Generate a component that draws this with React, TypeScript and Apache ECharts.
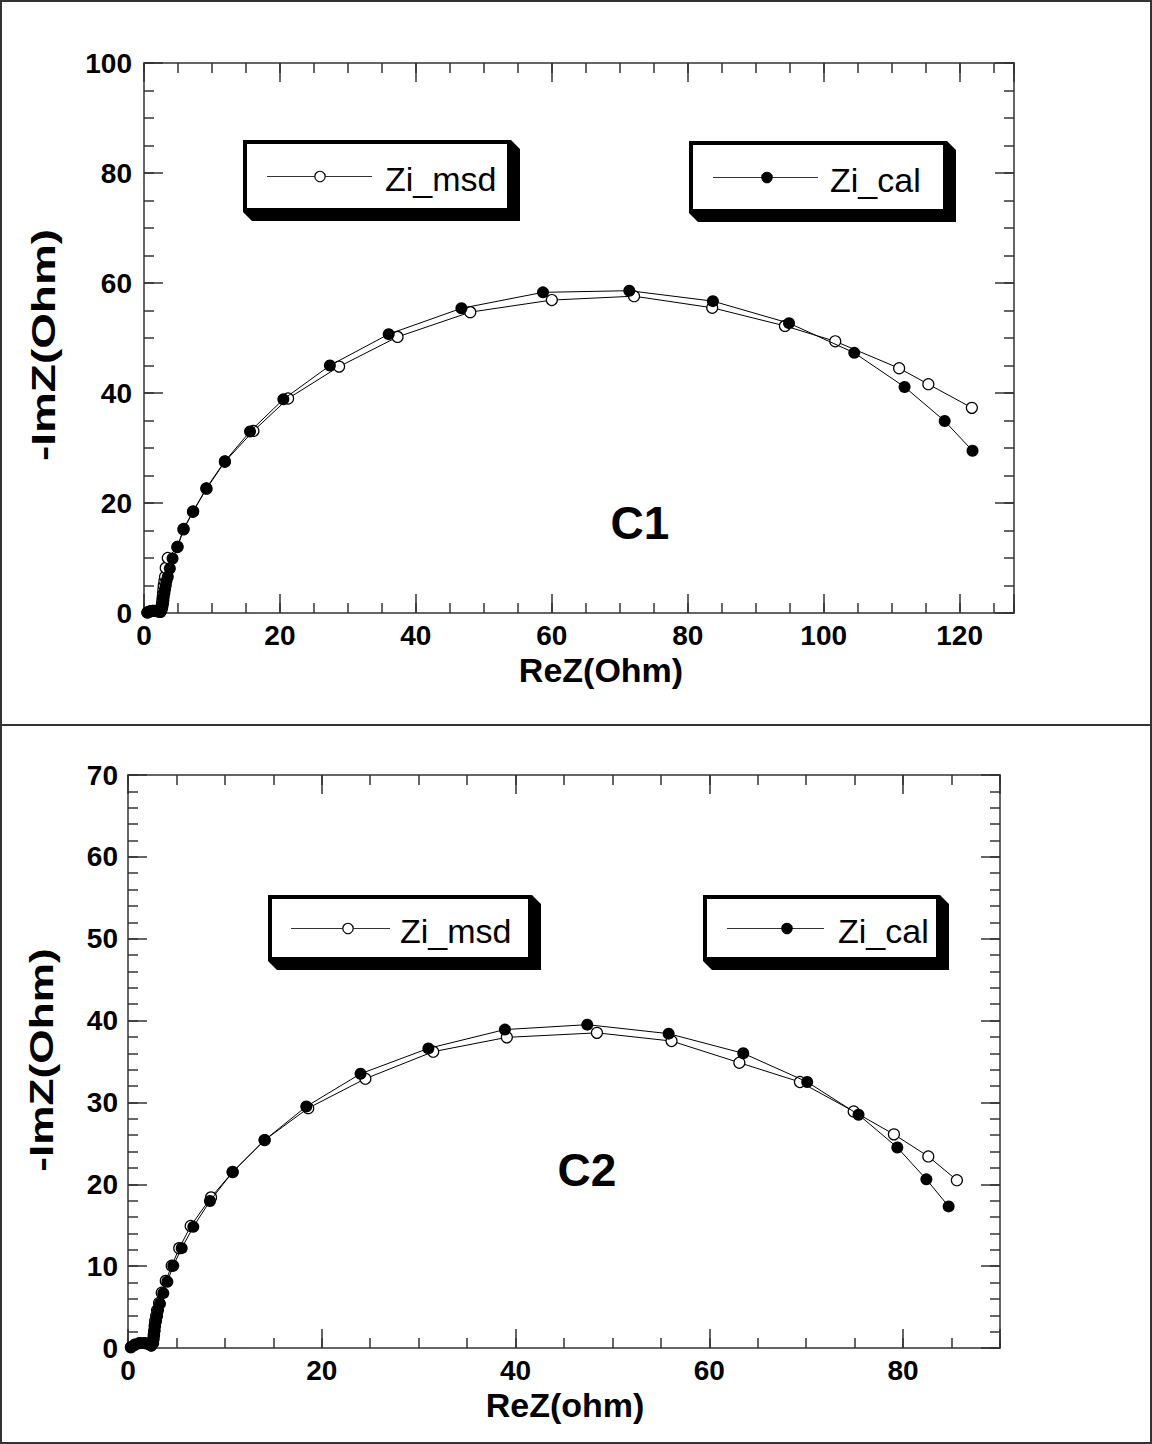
import React, { useEffect, useRef } from "react";
import * as echarts from "echarts";

// ---------- Data (C1, top panel) ----------
const c1MsdX = [0.5, 0.9, 1.3, 1.7, 2.1, 2.4, 2.5, 2.6, 2.65, 2.7, 2.75, 2.8, 2.85, 2.9, 3.0, 3.1, 3.2, 3.5, 4.9, 5.8, 7.2, 9.2, 11.9, 16.1, 21.2, 28.7, 37.3, 48.0, 60.0, 72.1, 83.6, 94.3, 101.7, 111.1, 115.4, 121.8];
const c1MsdY = [0.1, 0.3, 0.4, 0.4, 0.3, 0.2, 0.6, 1.1, 1.7, 2.3, 2.9, 3.6, 4.3, 5.0, 5.8, 6.6, 8.2, 10.0, 12.0, 15.2, 18.4, 22.6, 27.5, 33.1, 39.0, 44.8, 50.2, 54.7, 56.9, 57.6, 55.5, 52.2, 49.4, 44.5, 41.6, 37.3];
const c1CalX = [0.5, 0.9, 1.3, 1.7, 2.1, 2.4, 2.6, 2.7, 2.8, 2.85, 2.9, 3.0, 3.1, 3.2, 3.3, 3.5, 3.8, 4.2, 4.96, 5.84, 7.25, 9.16, 11.9, 15.6, 20.5, 27.35, 36.0, 46.7, 58.7, 71.4, 83.7, 94.9, 104.5, 111.9, 117.8, 121.9];
const c1CalY = [0.1, 0.3, 0.4, 0.4, 0.3, 0.2, 0.6, 1.1, 1.7, 2.3, 2.9, 3.6, 4.3, 5.0, 5.8, 6.6, 8.1, 9.9, 12.05, 15.3, 18.5, 22.7, 27.6, 33.0, 38.85, 45.0, 50.7, 55.4, 58.3, 58.6, 56.7, 52.7, 47.3, 41.1, 34.9, 29.5];

// ---------- Data (C2, bottom panel) ----------
const c2MsdX = [0.3, 0.7, 1.2, 1.7, 2.1, 2.4, 2.55, 2.6, 2.65, 2.7, 2.75, 2.8, 2.9, 3.0, 3.2, 3.48, 3.9, 4.51, 5.29, 6.47, 8.57, 10.8, 14.1, 18.6, 24.5, 31.5, 39.1, 48.4, 56.1, 63.1, 69.35, 74.9, 79.05, 82.6, 85.55];
const c2MsdY = [0.1, 0.4, 0.6, 0.6, 0.5, 0.3, 0.6, 1.1, 1.6, 2.1, 2.7, 3.3, 3.9, 4.6, 5.5, 6.75, 8.2, 10.05, 12.2, 14.9, 18.4, 21.5, 25.4, 29.3, 32.9, 36.2, 37.95, 38.5, 37.5, 34.85, 32.5, 28.9, 26.1, 23.4, 20.5];
const c2CalX = [0.3, 0.7, 1.2, 1.7, 2.1, 2.4, 2.6, 2.65, 2.7, 2.75, 2.8, 2.9, 3.0, 3.1, 3.3, 3.64, 4.06, 4.67, 5.54, 6.74, 8.46, 10.8, 14.1, 18.4, 24.0, 31.0, 38.9, 47.4, 55.8, 63.5, 70.1, 75.4, 79.4, 82.4, 84.7];
const c2CalY = [0.1, 0.4, 0.6, 0.6, 0.5, 0.3, 0.6, 1.1, 1.6, 2.1, 2.7, 3.3, 3.9, 4.6, 5.4, 6.7, 8.1, 10.05, 12.2, 14.8, 17.96, 21.5, 25.4, 29.5, 33.5, 36.6, 38.9, 39.5, 38.4, 36.0, 32.5, 28.5, 24.5, 20.6, 17.3];

// ---------- Axis settings ----------
const c1XRange = [0, 128];
const c1YRange = [0, 100];
const c1XTicks = { minor: 5, major: 20 };
const c1YTicks = { minor: 5, major: 20 };
const c2XRange = [0, 90];
const c2YRange = [0, 70];
const c2XTicks = { minor: 5, major: 20 };
const c2YTicks = { minor: 2, major: 10 };

const seriesNames = ["Zi_msd", "Zi_cal"];
const panelLabels = ["C1", "C2"];
const xTitles = ["ReZ(Ohm)", "ReZ(ohm)"];
const yTitle = "-ImZ(Ohm)";

const FONT = "'Liberation Sans', Arial, Helvetica, sans-serif";
const AXIS_COLOR = "#333";

function zip(xs: number[], ys: number[]) {
  return xs.map((x, i) => [x, ys[i]]);
}

function makeAxes(
  dim: "x" | "y",
  gridIndex: number,
  range: number[],
  ticks: { minor: number; major: number },
  labelMargin: number
) {
  const positions = dim === "x" ? ["bottom", "top"] : ["left", "right"];
  const axes: any[] = [];
  positions.forEach((pos, pi) => {
    [ticks.minor, ticks.major].forEach((interval, ki) => {
      const isMajor = ki === 1;
      const showLabel = pi === 0 && isMajor;
      axes.push({
        type: "value",
        gridIndex,
        position: pos,
        min: range[0],
        max: range[1],
        interval,
        axisLine: {
          show: !isMajor,
          onZero: false,
          lineStyle: { color: AXIS_COLOR, width: 1.5 },
        },
        axisTick: {
          show: true,
          inside: true,
          length: isMajor ? 19 : 10,
          lineStyle: { color: AXIS_COLOR, width: 1.5 },
        },
        axisLabel: {
          show: showLabel,
          margin: labelMargin,
          fontSize: 28,
          fontWeight: "bold",
          fontFamily: FONT,
          color: "#000",
          formatter: (v: number) => (v % ticks.major === 0 ? String(v) : ""),
        },
        splitLine: { show: false },
        minorTick: { show: false },
      });
    });
  });
  return axes;
}

function legendBox(L: number, T: number, R: number, B: number, lx1: number, lx2: number, mx: number, tx: number, filled: boolean, label: string) {
  const cy = (T + B) / 2 + 0.5;
  const s = 9;
  return [
    {
      type: "polygon",
      z: 20,
      shape: { points: [[L, B], [R, B], [R, T], [R + s, T + s], [R + s, B + s], [L + s, B + s]] },
      style: { fill: "#000" },
    },
    {
      type: "rect",
      z: 21,
      shape: { x: L + 2, y: T + 2, width: R - L - 4, height: B - T - 4 },
      style: { fill: "#fff", stroke: "#000", lineWidth: 4 },
    },
    {
      type: "line",
      z: 22,
      shape: { x1: lx1, y1: cy, x2: lx2, y2: cy },
      style: { stroke: "#333", lineWidth: 1 },
    },
    {
      type: "circle",
      z: 23,
      shape: { cx: mx, cy, r: 5.2 },
      style: { fill: filled ? "#000" : "#fff", stroke: "#000", lineWidth: 1.2 },
    },
    {
      type: "text",
      z: 23,
      x: tx,
      y: cy + 2,
      style: { text: label, fontSize: 34, fontFamily: FONT, fill: "#000", align: "left", verticalAlign: "middle" },
    },
  ];
}

function boldText(text: string, x: number, y: number, size: number, rotate = 0, stretch = 1) {
  return {
    type: "text",
    z: 25,
    x,
    y,
    rotation: rotate,
    scaleX: stretch,
    style: { text, fontSize: size, fontWeight: "bold", fontFamily: FONT, fill: "#000", align: "center", verticalAlign: "middle" },
  };
}

export default function App() {
  const ref = useRef<HTMLDivElement>(null);

  useEffect(() => {
    document.body.style.margin = "0";
    if (!ref.current) return;
    const chart = echarts.init(ref.current, undefined, { renderer: "svg" });

    const xAxes = [
      ...makeAxes("x", 0, c1XRange, c1XTicks, 8),
      ...makeAxes("x", 1, c2XRange, c2XTicks, 8),
    ];
    const yAxes = [
      ...makeAxes("y", 0, c1YRange, c1YTicks, 12),
      ...makeAxes("y", 1, c2YRange, c2YTicks, 10),
    ];

    const openStyle = {
      type: "line",
      symbol: "circle",
      symbolSize: 11,
      showSymbol: true,
      lineStyle: { color: "#000", width: 1 },
      itemStyle: { color: "#fff", borderColor: "#000", borderWidth: 1.2 },
      z: 2,
    };
    const filledStyle = {
      type: "line",
      symbol: "circle",
      symbolSize: 12,
      showSymbol: true,
      lineStyle: { color: "#000", width: 1 },
      itemStyle: { color: "#000", borderColor: "#000", borderWidth: 0 },
      z: 3,
    };

    const option: any = {
      animation: false,
      backgroundColor: "#fff",
      grid: [
        { left: 144, top: 63, width: 870, height: 550 },
        { left: 128, top: 775, width: 872, height: 573 },
      ],
      xAxis: xAxes,
      yAxis: yAxes,
      series: [
        { ...openStyle, name: seriesNames[0], xAxisIndex: 0, yAxisIndex: 0, data: zip(c1MsdX, c1MsdY) },
        { ...filledStyle, name: seriesNames[1], xAxisIndex: 0, yAxisIndex: 0, data: zip(c1CalX, c1CalY) },
        { ...openStyle, name: seriesNames[0], xAxisIndex: 4, yAxisIndex: 4, data: zip(c2MsdX, c2MsdY) },
        { ...filledStyle, name: seriesNames[1], xAxisIndex: 4, yAxisIndex: 4, data: zip(c2CalX, c2CalY) },
      ],
      graphic: [
        {
          type: "rect",
          z: 1,
          shape: { x: 1, y: 1, width: 1150, height: 1442 },
          style: { fill: "none", stroke: "#333", lineWidth: 2 },
        },
        {
          type: "line",
          z: 1,
          shape: { x1: 0, y1: 725, x2: 1152, y2: 725 },
          style: { stroke: "#333", lineWidth: 2 },
        },
        ...legendBox(243, 140, 511, 212, 267, 372, 320, 385, false, seriesNames[0]),
        ...legendBox(689, 141, 947, 213, 713, 818, 767, 830, true, seriesNames[1]),
        ...legendBox(268, 895, 532, 961, 291, 390, 348, 400, false, seriesNames[0]),
        ...legendBox(703, 895, 940, 961, 727, 824, 787, 838, true, seriesNames[1]),
        boldText(xTitles[0], 601, 670, 34),
        boldText(xTitles[1], 565, 1405, 34),
        boldText(yTitle, 43, 345, 34, Math.PI / 2, 1.35),
        boldText(yTitle, 41, 1060, 34, Math.PI / 2, 1.3),
        boldText(panelLabels[0], 640, 523, 46),
        boldText(panelLabels[1], 587, 1170, 46),
      ],
    };

    chart.setOption(option);
    return () => chart.dispose();
  }, []);

  return <div ref={ref} style={{ width: 1152, height: 1444 }} />;
}
